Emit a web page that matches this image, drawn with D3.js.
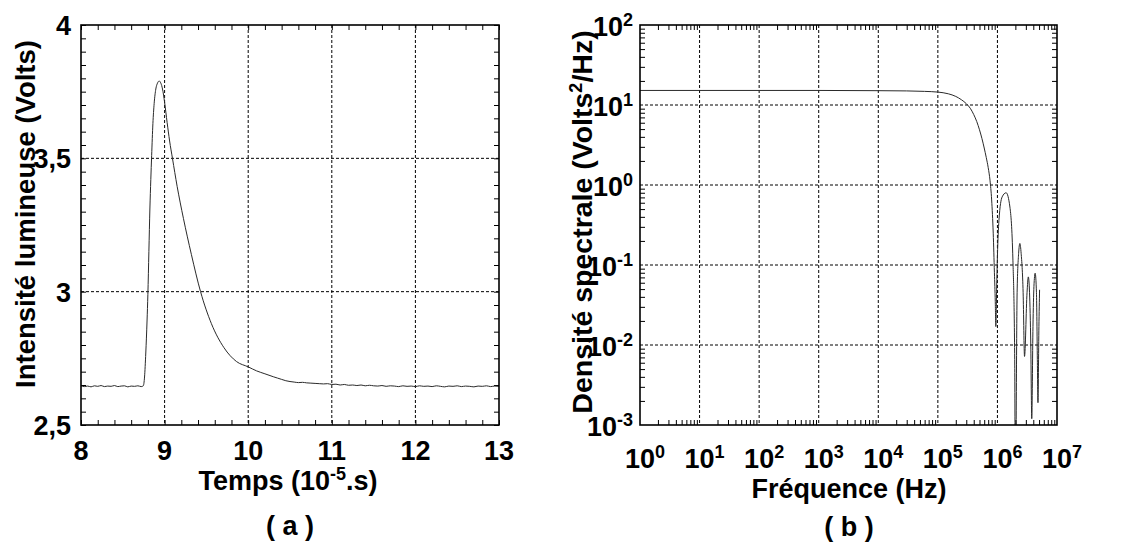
<!DOCTYPE html>
<html>
<head>
<meta charset="utf-8">
<script src="https://cdn.jsdelivr.net/npm/d3@7"></script>
<style>
  html, body { margin: 0; padding: 0; background: #fff; }
  svg { display: block; }
  text { font-family: "Liberation Sans", Arial, Helvetica, sans-serif; font-weight: bold; fill: #000; }
</style>
</head>
<body>
<svg id="chart" width="1122" height="544"></svg>
<script>
// ---- Panel (a): light pulse, intensity vs time ----
const timeValues = [
  8.00, 8.04, 8.08, 8.12, 8.16, 8.20, 8.24, 8.28, 8.32, 8.36, 8.40, 8.44, 8.48, 8.52, 8.56,
  8.60, 8.64, 8.68, 8.72, 8.745,
  8.76, 8.775, 8.79, 8.80, 8.812, 8.824, 8.835, 8.845, 8.86, 8.875, 8.895, 8.915, 8.935,
  8.955, 8.975, 9.00, 9.03, 9.06, 9.094, 9.15, 9.225, 9.32, 9.43, 9.56, 9.71, 9.86,
  10.00, 10.10, 10.20, 10.30, 10.35, 10.40, 10.45, 10.50,
  10.55, 10.60, 10.65, 10.70, 10.75, 10.80, 10.85, 10.90, 10.95, 11.00, 11.05, 11.10,
  11.15, 11.20, 11.25, 11.30, 11.35, 11.40, 11.45, 11.50, 11.55, 11.60, 11.65, 11.70,
  11.75, 11.80, 11.85, 11.90, 11.95, 12.00, 12.05, 12.10, 12.15, 12.20, 12.25, 12.30,
  12.35, 12.40, 12.45, 12.50, 12.55, 12.60, 12.65, 12.70, 12.75, 12.80, 12.85, 12.90,
  12.95, 13.00
];
const intensityValues = [
  2.647, 2.644, 2.646, 2.643, 2.647, 2.645, 2.648, 2.644, 2.646, 2.645, 2.648, 2.644, 2.646, 2.647, 2.643,
  2.646, 2.645, 2.647, 2.644, 2.647,
  2.68, 2.77, 2.89, 2.99, 3.15, 3.31, 3.42, 3.51, 3.63, 3.705, 3.76, 3.782, 3.79,
  3.782, 3.76, 3.71, 3.635, 3.565, 3.50, 3.395, 3.275, 3.14, 3.00, 2.88, 2.79, 2.738,
  2.718, 2.703, 2.692, 2.681, 2.676, 2.671, 2.666, 2.663,
  2.661, 2.659, 2.660, 2.658, 2.657, 2.656, 2.655, 2.654, 2.655, 2.652, 2.653, 2.650,
  2.652, 2.649, 2.650, 2.648, 2.650, 2.647, 2.649, 2.647, 2.646, 2.648, 2.645, 2.647,
  2.646, 2.644, 2.647, 2.645, 2.646, 2.644, 2.647, 2.645, 2.646, 2.644, 2.647, 2.645,
  2.643, 2.646, 2.645, 2.647, 2.644, 2.646, 2.645, 2.643, 2.646, 2.645, 2.647, 2.644,
  2.646, 2.645
];
const timeTicks = [8, 9, 10, 11, 12, 13];
const timeTickLabels = ["8", "9", "10", "11", "12", "13"];
const intensityTicks = [2.5, 3, 3.5, 4];
const intensityTickLabels = ["2,5", "3", "3,5", "4"];

// ---- Panel (b): spectral density vs frequency ----
const freqValues = [
  1, 10, 100, 1e3, 1e4, 3e4, 6e4, 1e5, 1.5e5, 2e5, 2.5e5, 3e5, 3.5e5, 4e5, 4.5e5, 5e5,
  5.5e5, 6e5, 6.5e5, 7e5, 7.5e5, 8e5, 8.5e5, 8.9e5, 9.2e5, 9.4e5, 9.7e5, 1.0e6, 1.06e6,
  1.2e6, 1.4e6, 1.62e6, 1.82e6, 1.95e6, 2.0e6, 2.14e6, 2.27e6, 2.38e6, 2.5e6, 2.7e6,
  2.85e6, 3.14e6, 3.3e6, 3.46e6, 3.63e6, 3.77e6, 3.95e6, 4.1e6, 4.3e6, 4.52e6, 4.68e6,
  4.79e6, 4.97e6, 5.1e6
];
const psdValues = [
  15.2, 15.2, 15.2, 15.2, 15.1, 15.0, 14.8, 14.5, 13.8, 12.8, 11.6, 10.4, 9.1, 7.6, 6.2, 4.9,
  3.8, 2.9, 2.2, 1.65, 1.15, 0.65, 0.25, 0.08, 0.035, 0.017, 0.05, 0.13, 0.36,
  0.71, 0.80, 0.53, 0.115, 0.0066, 0.0001, 0.045, 0.14, 0.186, 0.14, 0.045,
  0.0072, 0.045, 0.071, 0.045, 0.010, 0.0012, 0.017, 0.054, 0.079, 0.045, 0.0066,
  0.0019, 0.017, 0.049
];
const freqExponents = [0, 1, 2, 3, 4, 5, 6, 7];
const psdExponents = [-3, -2, -1, 0, 1, 2];

const svg = d3.select("#chart");
const plotTop = 25, plotBottom = 425;
const tickLen = 5;
const labelSize = 27, supSize = 18;

function frame(g, x0, x1) {
  g.append("rect")
    .attr("x", x0).attr("y", plotTop)
    .attr("width", x1 - x0).attr("height", plotBottom - plotTop)
    .attr("fill", "none").attr("stroke", "#000").attr("stroke-width", 1.6);
}

function gridLines(g, x, y, xs, ys) {
  const [x0, x1] = x.range();
  g.selectAll(null).data(xs).enter().append("line")
    .attr("x1", d => x(d)).attr("x2", d => x(d))
    .attr("y1", plotTop).attr("y2", plotBottom)
    .attr("stroke", "#000").attr("stroke-width", 1).attr("stroke-dasharray", "3,2");
  g.selectAll(null).data(ys).enter().append("line")
    .attr("x1", x0).attr("x2", x1)
    .attr("y1", d => y(d)).attr("y2", d => y(d))
    .attr("stroke", "#000").attr("stroke-width", 1).attr("stroke-dasharray", "3,2");
}

function minorTicks(g, x, y, xt, yt) {
  const [x0, x1] = x.range();
  const style = sel => {
    sel.select(".domain").remove();
    sel.selectAll("line").attr("stroke", "#000").attr("stroke-width", 1);
    sel.selectAll("text").remove();
  };
  g.append("g").attr("transform", `translate(0,${plotBottom})`)
    .call(d3.axisBottom(x).tickValues(xt).tickSize(-tickLen).tickFormat("")).call(style);
  g.append("g").attr("transform", `translate(0,${plotTop})`)
    .call(d3.axisTop(x).tickValues(xt).tickSize(-tickLen).tickFormat("")).call(style);
  g.append("g").attr("transform", `translate(${x0},0)`)
    .call(d3.axisLeft(y).tickValues(yt).tickSize(-tickLen).tickFormat("")).call(style);
  g.append("g").attr("transform", `translate(${x1},0)`)
    .call(d3.axisRight(y).tickValues(yt).tickSize(-tickLen).tickFormat("")).call(style);
}

// ================= Panel (a) =================
{
  const g = svg.append("g");
  const x = d3.scaleLinear().domain([8, 13]).range([81, 499]);
  const y = d3.scaleLinear().domain([2.5, 4]).range([plotBottom, plotTop]);

  gridLines(g, x, y, timeTicks.slice(1, -1), intensityTicks.slice(1, -1));
  minorTicks(g, x, y, d3.range(8, 13.001, 0.2), d3.range(2.5, 4.001, 0.05));

  g.append("clipPath").attr("id", "clipA").append("rect")
    .attr("x", 81).attr("y", plotTop).attr("width", 418).attr("height", plotBottom - plotTop);
  const pts = timeValues.map((t, i) => [t, intensityValues[i]]);
  g.append("path").datum(pts)
    .attr("clip-path", "url(#clipA)")
    .attr("fill", "none").attr("stroke", "#2a2a2a").attr("stroke-width", 1)
    .attr("d", d3.line().x(d => x(d[0])).y(d => y(d[1])).curve(d3.curveMonotoneX));

  frame(g, 81, 499);

  g.selectAll(null).data(timeTicks).enter().append("text")
    .attr("x", d => x(d)).attr("y", 460)
    .attr("text-anchor", "middle").attr("font-size", labelSize)
    .text((d, i) => timeTickLabels[i]);
  g.selectAll(null).data(intensityTicks).enter().append("text")
    .attr("x", 71).attr("y", d => y(d) + 10)
    .attr("text-anchor", "end").attr("font-size", labelSize)
    .text((d, i) => intensityTickLabels[i]);

  const xl = g.append("text").attr("x", 288).attr("y", 490)
    .attr("text-anchor", "middle").attr("font-size", labelSize);
  xl.append("tspan").text("Temps (10");
  xl.append("tspan").attr("dy", -10).attr("font-size", supSize).text("-5");
  xl.append("tspan").attr("dy", 10).text(".s)");

  g.append("text").attr("transform", "translate(35,214) rotate(-90)")
    .attr("text-anchor", "middle").attr("font-size", 27.5)
    .text("Intensité lumineuse (Volts)");

  g.append("text").attr("x", 290).attr("y", 535)
    .attr("text-anchor", "middle").attr("font-size", labelSize).text("( a )");
}

// ================= Panel (b) =================
{
  const g = svg.append("g");
  const x = d3.scaleLog().domain([1, 1e7]).range([640, 1057]);
  const y = d3.scaleLog().domain([1e-3, 1e2]).range([plotBottom, plotTop]);

  const logMinor = (lo, hi) => {
    const out = [];
    for (let e = lo; e < hi; e++) for (let k = 2; k <= 9; k++) out.push(k * Math.pow(10, e));
    return out;
  };

  gridLines(g, x, y,
    freqExponents.slice(1, -1).map(e => Math.pow(10, e)),
    psdExponents.slice(1, -1).map(e => Math.pow(10, e)));
  minorTicks(g, x, y, logMinor(0, 7), logMinor(-3, 2));

  g.append("clipPath").attr("id", "clipB").append("rect")
    .attr("x", 640).attr("y", plotTop).attr("width", 417).attr("height", plotBottom - plotTop);
  const pts = freqValues.map((f, i) => [f, psdValues[i]]);
  g.append("path").datum(pts)
    .attr("clip-path", "url(#clipB)")
    .attr("fill", "none").attr("stroke", "#2a2a2a").attr("stroke-width", 1)
    .attr("d", d3.line().x(d => x(d[0])).y(d => y(d[1])).curve(d3.curveMonotoneX));

  frame(g, 640, 1057);

  freqExponents.forEach(e => {
    const t = g.append("text").attr("x", x(Math.pow(10, e)) + 5).attr("y", 468)
      .attr("text-anchor", "middle").attr("font-size", labelSize);
    t.append("tspan").text("10");
    t.append("tspan").attr("dy", -10).attr("font-size", supSize).text(String(e));
  });
  psdExponents.forEach(e => {
    const t = g.append("text").attr("x", 633).attr("y", y(Math.pow(10, e)) + 11)
      .attr("text-anchor", "end").attr("font-size", labelSize);
    t.append("tspan").text("10");
    t.append("tspan").attr("dy", -10).attr("font-size", supSize).text(String(e));
  });

  g.append("text").attr("x", 849).attr("y", 498)
    .attr("text-anchor", "middle").attr("font-size", labelSize).text("Fréquence (Hz)");

  const yl = g.append("text").attr("transform", "translate(592,222) rotate(-90)")
    .attr("text-anchor", "middle").attr("font-size", 28.5);
  yl.append("tspan").text("Densité spectrale (Volts");
  yl.append("tspan").attr("dy", -10).attr("font-size", supSize).text("2");
  yl.append("tspan").attr("dy", 10).text("/Hz)");

  g.append("text").attr("x", 849).attr("y", 536)
    .attr("text-anchor", "middle").attr("font-size", labelSize).text("( b )");
}
</script>
</body>
</html>
